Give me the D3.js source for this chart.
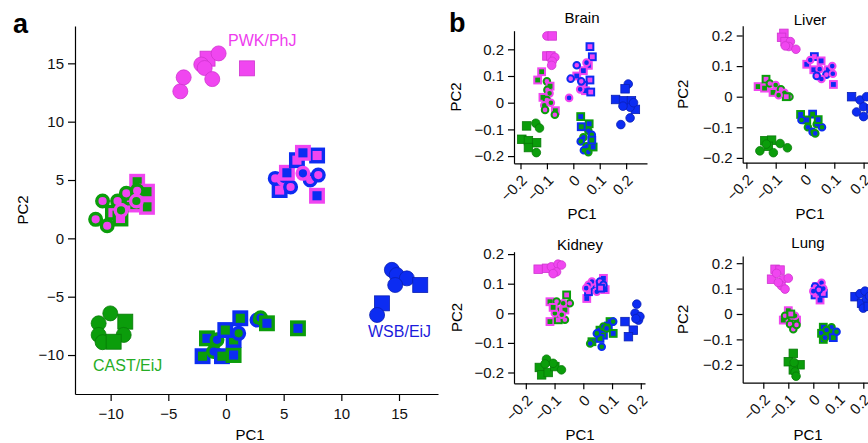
<!DOCTYPE html>
<html>
<head>
<meta charset="utf-8">
<script src="https://cdn.jsdelivr.net/npm/d3@7"></script>
<style>
body { margin: 0; background: #fff; }
text { font-family: "Liberation Sans", Arial, sans-serif; }
</style>
</head>
<body>
<script>
// each point: [PC1, PC2, sex ("o" female / "s" male), strains (fill strain + outline strain)]
// P = PWK/PhJ, C = CAST/EiJ, W = WSB/EiJ
const ticksA = [-10, -5, 0, 5, 10, 15]
const ticksB = [-0.2, -0.1, 0, 0.1, 0.2]
const tissues = ["Brain", "Liver", "Kidney", "Lung"]
const strainLabels = ["PWK/PhJ", "CAST/EiJ", "WSB/EiJ"]

const pointsA = [
  [-1.6, 15.4, "s", "PP"], [-3.96, 12.6, "o", "PP"], [-3.67, 13.8, "o", "PP"], [-0.64, 15.85, "o", "PP"],
  [-2.14, 14.9, "o", "PP"], [-1.85, 14.6, "o", "PP"], [-1.19, 13.65, "o", "PP"], [1.82, 14.57, "s", "PP"],
  [-7.7, 4.85, "s", "CP"], [-6.85, 4.0, "s", "CP"], [-6.85, 2.7, "s", "CP"], [-7.9, 2.9, "s", "CP"],
  [-8.2, 3.5, "s", "PC"], [-9.8, 2.2, "s", "PC"], [-9.15, 1.7, "s", "PC"],
  [-11.3, 1.63, "o", "PC"], [-10.3, 1.08, "o", "PC"], [-10.7, 3.2, "o", "PC"], [-9.4, 3.2, "o", "PC"],
  [-8.64, 3.86, "o", "PC"], [-7.7, 4.08, "o", "PC"], [-9.1, 2.4, "o", "CP"], [-7.77, 3.2, "o", "CP"],
  [4.65, 4.14, "s", "PW"], [4.27, 5.14, "o", "PW"], [5.0, 5.1, "o", "WP"], [5.6, 4.4, "o", "PW"],
  [5.28, 5.62, "s", "WP"], [6.15, 6.7, "s", "PW"], [7.9, 7.1, "s", "PW"], [6.67, 7.33, "s", "WP"],
  [7.3, 5.0, "o", "PW"], [8.0, 5.42, "o", "PW"], [6.67, 5.57, "o", "WP"], [7.89, 3.65, "s", "WP"],
  [-2.03, -10.1, "s", "CW"], [-1.65, -8.57, "s", "WC"], [-0.78, -8.7, "o", "WC"], [-1.07, -9.7, "o", "WC"],
  [-0.35, -10.1, "s", "CW"], [0.66, -10.0, "s", "WC"], [0.66, -8.7, "s", "CW"], [-0.06, -7.86, "s", "CW"],
  [1.1, -8.14, "o", "CW"], [1.24, -6.85, "s", "CW"], [2.69, -7.0, "o", "CW"], [3.0, -6.8, "o", "WC"],
  [3.55, -7.28, "s", "WC"], [6.24, -7.71, "s", "WC"],
  [-10.03, -6.43, "o", "CC"], [-8.73, -7.14, "s", "CC"], [-11.04, -7.28, "o", "CC"], [-11.04, -8.28, "o", "CC"],
  [-8.87, -8.28, "o", "CC"], [-10.7, -8.9, "o", "CC"], [-9.74, -8.86, "s", "CC"],
  [14.38, -2.7, "o", "WW"], [14.8, -3.14, "o", "WW"], [15.68, -3.43, "o", "WW"], [14.67, -4.0, "o", "WW"],
  [16.84, -4.0, "s", "WW"], [13.52, -5.57, "s", "WW"], [13.1, -6.57, "o", "WW"]
]

const brain = [
  [-0.1, 0.25, "o", "PP"], [-0.08, 0.25, "s", "PP"], [-0.1, 0.175, "s", "PP"], [-0.085, 0.175, "s", "PP"],
  [-0.07, 0.17, "o", "PP"], [-0.08, 0.155, "o", "PP"], [-0.082, 0.14, "o", "PP"],
  [-0.12, 0.116, "s", "CP"], [-0.135, 0.085, "s", "CP"], [-0.1, 0.08, "o", "PC"], [-0.088, 0.062, "s", "CP"],
  [-0.098, 0.048, "o", "PC"], [-0.09, 0.035, "o", "CP"], [-0.115, 0.02, "s", "CP"], [-0.1, 0.01, "o", "PC"],
  [-0.11, -0.01, "o", "CP"], [-0.107, -0.027, "o", "PC"], [-0.068, -0.03, "s", "CP"], [-0.07, -0.045, "o", "PC"],
  [-0.085, 0.0, "o", "CP"],
  [0.063, 0.21, "s", "PW"], [0.072, 0.172, "s", "PW"], [0.057, 0.14, "s", "WP"], [0.038, 0.12, "s", "WP"],
  [0.063, 0.085, "s", "PW"], [0.038, 0.065, "s", "PW"], [0.013, 0.1, "s", "WP"], [0.046, 0.045, "s", "WP"],
  [0.066, 0.04, "s", "PW"], [0.013, 0.14, "o", "PW"], [-0.01, 0.09, "o", "PW"], [-0.016, 0.018, "o", "WP"],
  [0.026, 0.05, "o", "WP"], [0.05, 0.15, "o", "WP"], [0.03, 0.08, "o", "PW"],
  [0.028, -0.052, "s", "WC"], [0.06, -0.079, "s", "WC"], [0.057, -0.105, "o", "WC"], [0.07, -0.12, "o", "CW"],
  [0.038, -0.13, "o", "WC"], [0.028, -0.145, "o", "CW"], [0.05, -0.163, "o", "WC"], [0.04, -0.178, "o", "CW"],
  [0.057, -0.185, "o", "WC"], [0.075, -0.166, "s", "WC"], [0.07, -0.14, "s", "CW"], [0.03, -0.09, "s", "CW"],
  [-0.177, -0.087, "s", "CC"], [-0.195, -0.137, "s", "CC"], [-0.17, -0.142, "s", "CC"], [-0.139, -0.15, "s", "CC"],
  [-0.17, -0.168, "s", "CC"], [-0.142, -0.077, "o", "CC"], [-0.128, -0.095, "o", "CC"], [-0.14, -0.187, "o", "CC"],
  [0.16, 0.012, "s", "WW"], [0.208, 0.07, "o", "WW"], [0.196, 0.052, "s", "WW"], [0.19, 0.007, "s", "WW"],
  [0.22, 0.007, "s", "WW"], [0.235, -0.025, "s", "WW"], [0.215, -0.017, "o", "WW"], [0.188, -0.013, "o", "WW"],
  [0.215, -0.057, "o", "WW"], [0.18, -0.082, "o", "WW"], [0.228, 0.0, "o", "WW"]
]

const liver = [
  [-0.072, 0.207, "s", "PP"], [-0.08, 0.194, "s", "PP"], [-0.068, 0.18, "s", "PP"], [-0.05, 0.18, "o", "PP"],
  [-0.055, 0.164, "o", "PP"], [-0.067, 0.166, "o", "PP"], [-0.031, 0.155, "o", "PP"],
  [-0.16, 0.033, "s", "CP"], [-0.133, 0.057, "s", "PC"], [-0.138, 0.028, "s", "CP"], [-0.109, 0.014, "s", "CP"],
  [-0.12, 0.043, "o", "PC"], [-0.1, 0.038, "o", "CP"], [-0.082, 0.024, "o", "PC"], [-0.07, 0.013, "o", "CP"],
  [-0.053, 0.0, "o", "PC"], [-0.064, 0.0, "s", "PC"], [-0.09, 0.005, "o", "CP"],
  [0.006, 0.106, "s", "WP"], [0.032, 0.131, "s", "PW"], [0.055, 0.117, "s", "WP"], [0.08, 0.088, "s", "WP"],
  [0.097, 0.04, "s", "WP"], [0.03, 0.088, "s", "WP"], [0.05, 0.09, "o", "WP"], [0.073, 0.072, "o", "PW"],
  [0.093, 0.1, "o", "WP"], [0.056, 0.058, "o", "WP"], [0.04, 0.068, "o", "PW"], [0.095, 0.075, "o", "WP"],
  [0.018, 0.12, "o", "WP"],
  [-0.015, -0.058, "s", "WC"], [0.026, -0.057, "s", "CW"], [0.006, -0.076, "s", "WC"], [-0.012, -0.076, "o", "CW"],
  [0.04, -0.09, "o", "WC"], [0.058, -0.1, "o", "CW"], [0.01, -0.1, "o", "WC"], [0.026, -0.115, "o", "CW"],
  [0.035, -0.12, "o", "WC"], [0.045, -0.075, "s", "WC"],
  [-0.137, -0.144, "s", "CC"], [-0.114, -0.142, "s", "CC"], [-0.125, -0.162, "s", "CC"], [-0.154, -0.177, "o", "CC"],
  [-0.108, -0.183, "o", "CC"], [-0.085, -0.153, "o", "CC"], [-0.06, -0.167, "o", "CC"], [-0.132, -0.155, "o", "CC"],
  [0.159, 0.0, "s", "WW"], [0.188, -0.011, "o", "WW"], [0.176, -0.05, "o", "WW"], [0.2, -0.065, "o", "WW"],
  [0.2, -0.033, "o", "WW"], [0.21, 0.0, "o", "WW"], [0.225, -0.04, "s", "WW"], [0.23, -0.07, "o", "WW"],
  [0.24, -0.02, "o", "WW"]
]

const kidney = [
  [-0.157, 0.149, "s", "PP"], [-0.128, 0.152, "s", "PP"], [-0.111, 0.157, "o", "PP"], [-0.088, 0.166, "o", "PP"],
  [-0.093, 0.14, "o", "PP"], [-0.076, 0.163, "o", "PP"], [-0.105, 0.134, "o", "PP"],
  [-0.116, 0.039, "s", "CP"], [-0.058, 0.062, "s", "PC"], [-0.093, 0.011, "s", "CP"], [-0.116, -0.028, "s", "CP"],
  [-0.087, -0.022, "s", "PC"], [-0.064, 0.011, "s", "CP"], [-0.047, 0.034, "o", "PC"], [-0.07, 0.034, "o", "CP"],
  [-0.093, 0.04, "o", "PC"], [-0.099, 0.0, "o", "CP"], [-0.064, -0.022, "o", "PC"], [-0.075, -0.005, "o", "CP"],
  [-0.105, 0.02, "s", "CP"],
  [0.012, 0.05, "s", "WP"], [0.047, 0.096, "s", "PW"], [0.07, 0.118, "s", "WP"], [0.018, 0.073, "s", "PW"],
  [0.076, 0.08, "s", "WP"], [0.03, 0.107, "o", "WP"], [0.058, 0.107, "o", "PW"], [0.047, 0.073, "o", "WP"],
  [0.018, 0.096, "o", "WP"], [0.07, 0.096, "o", "PW"], [0.01, 0.085, "o", "WP"], [0.06, 0.085, "s", "PW"],
  [0.093, -0.028, "s", "WC"], [0.087, -0.043, "s", "CW"], [0.058, -0.057, "s", "WC"], [0.07, -0.074, "s", "CW"],
  [0.03, -0.096, "s", "WC"], [0.058, -0.085, "s", "CW"], [0.104, -0.068, "s", "WC"], [0.104, -0.028, "o", "CW"],
  [0.07, -0.045, "o", "WC"], [0.047, -0.068, "o", "CW"], [0.024, -0.102, "o", "WC"], [0.064, -0.113, "o", "CW"],
  [0.081, -0.051, "o", "WC"],
  [-0.153, -0.183, "s", "CC"], [-0.145, -0.208, "s", "CC"], [-0.122, -0.2, "s", "CC"], [-0.099, -0.18, "s", "CC"],
  [-0.128, -0.155, "o", "CC"], [-0.105, -0.169, "o", "CC"], [-0.076, -0.191, "o", "CC"], [-0.133, -0.171, "o", "CC"],
  [0.145, -0.028, "s", "WW"], [0.174, -0.057, "s", "WW"], [0.157, -0.079, "s", "WW"], [0.186, -0.011, "s", "WW"],
  [0.186, 0.031, "o", "WW"], [0.18, 0.0, "o", "WW"], [0.192, -0.023, "o", "WW"], [0.197, -0.011, "o", "WW"],
  [0.183, -0.018, "o", "WW"]
]

const lung = [
  [-0.153, 0.176, "s", "PP"], [-0.133, 0.173, "s", "PP"], [-0.167, 0.137, "s", "PP"], [-0.147, 0.16, "o", "PP"],
  [-0.12, 0.137, "o", "PP"], [-0.1, 0.141, "o", "PP"], [-0.127, 0.111, "o", "PP"], [-0.113, 0.098, "o", "PP"],
  [-0.14, 0.124, "o", "PP"],
  [-0.1, 0.013, "s", "CP"], [-0.12, -0.024, "s", "CP"], [-0.067, -0.024, "s", "CP"], [-0.113, -0.007, "o", "PC"],
  [-0.087, -0.014, "o", "PC"], [-0.073, -0.007, "o", "CP"], [-0.093, -0.04, "o", "PC"], [-0.08, -0.06, "o", "PC"],
  [-0.067, -0.043, "o", "PC"], [-0.09, 0.0, "s", "PC"],
  [0.007, 0.075, "s", "PW"], [0.027, 0.055, "s", "WP"], [0.04, 0.081, "s", "PW"], [0.013, 0.108, "s", "WP"],
  [0.033, 0.123, "o", "WP"], [0.007, 0.108, "o", "PW"], [0.0, 0.09, "o", "WP"], [0.04, 0.1, "o", "WP"],
  [0.022, 0.095, "o", "PW"],
  [0.04, -0.052, "s", "WC"], [0.067, -0.076, "s", "CW"], [0.033, -0.076, "s", "WC"], [0.04, -0.1, "s", "WC"],
  [0.08, -0.093, "s", "CW"], [0.073, -0.052, "o", "WC"], [0.093, -0.07, "o", "CW"], [0.053, -0.063, "o", "WC"],
  [0.047, -0.093, "o", "WC"],
  [-0.08, -0.155, "s", "CC"], [-0.1, -0.188, "s", "CC"], [-0.053, -0.2, "s", "CC"], [-0.08, -0.22, "s", "CC"],
  [-0.077, -0.191, "o", "CC"], [-0.073, -0.228, "o", "CC"], [-0.069, -0.245, "o", "CC"],
  [0.167, 0.068, "s", "WW"], [0.193, 0.042, "s", "WW"], [0.187, 0.08, "o", "WW"], [0.207, 0.09, "o", "WW"],
  [0.213, 0.058, "o", "WW"], [0.2, 0.023, "o", "WW"], [0.225, 0.07, "o", "WW"], [0.22, 0.03, "s", "WW"]
]

const w = 868
const h = 443
const fillCol = {P: "#f046f0", C: "#0b9d0b", W: "#0c2cf2"}
const edgeCol = {P: "#cf34cf", C: "#077a07", W: "#0a20b4"}
const labelCol = {P: "#ee3cee", C: "#26ad26", W: "#1c1cdc"}

const svg = d3.select("body").append("svg").attr("width", w).attr("height", h)

function drawPoints(g, data, x, y, sz) {
  data.forEach(d => {
    const f = d[3][0], s = d[3][1]
    const hyb = f !== s
    const stroke = hyb ? fillCol[s] : edgeCol[f]
    const sw = hyb ? sz.sw : 0.8
    if (d[2] === "o") {
      g.append("circle").attr("cx", x(d[0])).attr("cy", y(d[1])).attr("r", hyb ? sz.rh : sz.r)
        .attr("fill", fillCol[f]).attr("stroke", stroke).attr("stroke-width", sw)
    } else {
      const a = hyb ? sz.ah : sz.a
      g.append("rect").attr("x", x(d[0]) - a / 2).attr("y", y(d[1]) - a / 2).attr("width", a).attr("height", a)
        .attr("fill", fillCol[f]).attr("stroke", stroke).attr("stroke-width", sw)
    }
  })
}

const fmt = v => (v < 0 ? "\u2212" : "") + Math.abs(v)

function styleAxis(g) {
  g.select(".domain").attr("stroke", "#000").attr("stroke-width", 1.2)
  g.selectAll(".tick line").attr("stroke", "#000").attr("stroke-width", 1.2)
  g.selectAll("text").attr("font-size", 15).attr("fill", "#111").attr("font-family", "Liberation Sans, Arial, sans-serif")
}

// ---- panel a
const xA = d3.scaleLinear().domain([-13.09, 18.38]).range([75, 438])
const yA = d3.scaleLinear().domain([-13.34, 18.2]).range([394, 26])

const gA = svg.append("g")
drawPoints(gA, pointsA, xA, yA, {r: 7.5, a: 15, rh: 5.8, ah: 12.5, sw: 3.4})

gA.append("g").attr("transform", "translate(0," + 394 + ")")
  .call(d3.axisBottom(xA).tickValues(ticksA).tickFormat(fmt).tickSize(7).tickPadding(7).tickSizeOuter(0))
  .call(styleAxis)
gA.append("g").attr("transform", "translate(75,0)")
  .call(d3.axisLeft(yA).tickValues(ticksA).tickFormat(fmt).tickSize(7).tickPadding(4).tickSizeOuter(0))
  .call(styleAxis)

gA.append("text").attr("x", 250).attr("y", 440).attr("text-anchor", "middle").attr("font-size", 15).text("PC1")
gA.append("text").attr("transform", "translate(28,210) rotate(-90)").attr("text-anchor", "middle").attr("font-size", 15).text("PC2")
gA.append("text").attr("x", 13).attr("y", 33).attr("font-size", 27).attr("font-weight", "bold").text("a")

gA.append("text").attr("x", 228).attr("y", 46).attr("font-size", 16).attr("fill", labelCol.P).text(strainLabels[0])
gA.append("text").attr("x", 93).attr("y", 371).attr("font-size", 16).attr("fill", labelCol.C).text(strainLabels[1])
gA.append("text").attr("x", 368).attr("y", 337).attr("font-size", 16).attr("fill", labelCol.W).text(strainLabels[2])

// ---- panel b
svg.append("text").attr("x", 449).attr("y", 32).attr("font-size", 27).attr("font-weight", "bold").text("b")

const layout = [
  {data: brain, xr: [514, 647], xd: [-0.2246, 0.279], yr: [163.3, 30.7], yd: [-0.227, 0.2697], tx: 582, ty: 23, px: 461, p1: 219},
  {data: liver, xr: [742.7, 905], xd: [-0.2126, 0.3413], yr: [162.7, 25.7], yd: [-0.2157, 0.2320], tx: 810, ty: 25, px: 688, p1: 219},
  {data: kidney, xr: [514, 645], xd: [-0.2411, 0.2146], yr: [383.3, 251.7], yd: [-0.2365, 0.2081], tx: 580, ty: 250, px: 462, p1: 440},
  {data: lung, xr: [742.7, 905], xd: [-0.2824, 0.3668], yr: [382.7, 256], yd: [-0.2705, 0.2283], tx: 808, ty: 248, px: 688, p1: 440}
]

layout.forEach((p, i) => {
  const x = d3.scaleLinear().domain(p.xd).range(p.xr)
  const y = d3.scaleLinear().domain(p.yd).range(p.yr)
  const g = svg.append("g")
  drawPoints(g, p.data, x, y, {r: 4.3, a: 8.5, rh: 3.3, ah: 6.8, sw: 2})

  g.append("g").attr("transform", "translate(0," + p.yr[0] + ")")
    .call(d3.axisBottom(x).tickValues(ticksB).tickFormat(fmt).tickSize(6).tickSizeOuter(0))
    .call(styleAxis)
    .selectAll("text").attr("y", 0).attr("dy", 0).attr("text-anchor", "end")
    .attr("transform", "translate(7,18) rotate(-45)")
  g.append("g").attr("transform", "translate(" + p.xr[0] + ",0)")
    .call(d3.axisLeft(y).tickValues(ticksB).tickFormat(fmt).tickSize(6).tickPadding(4).tickSizeOuter(0))
    .call(styleAxis)

  g.append("text").attr("x", p.tx).attr("y", p.ty).attr("text-anchor", "middle").attr("font-size", 15).text(tissues[i])
  g.append("text").attr("transform", "translate(" + p.px + "," + ((p.yr[0] + p.yr[1]) / 2) + ") rotate(-90)")
    .attr("text-anchor", "middle").attr("font-size", 15).text("PC2")
  g.append("text").attr("x", p.tx).attr("y", p.p1).attr("text-anchor", "middle").attr("font-size", 15).text("PC1")
})
</script>
</body>
</html>
